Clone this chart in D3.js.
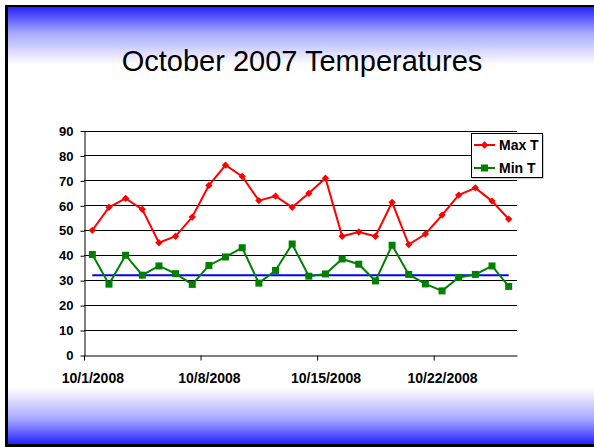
<!DOCTYPE html>
<html>
<head>
<meta charset="utf-8">
<script src="https://cdn.jsdelivr.net/npm/d3@7"></script>
<style>
  html, body { margin: 0; padding: 0; background: #fff; }
  svg { display: block; font-family: "Liberation Sans", Arial, sans-serif; }
  .axis text { font-weight: bold; fill: #000; }
  .axis path, .axis line { stroke: #000; }
</style>
</head>
<body>
<div id="chart"></div>
<script>
// size of the slide
var width = 594,
    height = 447;

// one entry per day of the month
var dates = ["10/1/2008", "10/2/2008", "10/3/2008", "10/4/2008", "10/5/2008", "10/6/2008",
             "10/7/2008", "10/8/2008", "10/9/2008", "10/10/2008", "10/11/2008", "10/12/2008",
             "10/13/2008", "10/14/2008", "10/15/2008", "10/16/2008", "10/17/2008", "10/18/2008",
             "10/19/2008", "10/20/2008", "10/21/2008", "10/22/2008", "10/23/2008", "10/24/2008",
             "10/25/2008", "10/26/2008"];

var maxT = [50, 59.2, 62.8, 58.4, 45, 47.6, 55.3, 68, 76.1, 71.6, 61.9, 63.7, 59.2,
            64.8, 70.9, 47.6, 49.3, 47.6, 61.2, 44.3, 48.5, 56.1, 64.1, 67, 61.7, 54.5];

var minT = [40.3, 28.4, 40, 32, 35.7, 32.6, 28.3, 35.9, 39.3, 43, 28.8, 33.9, 44.5,
            31.6, 32.5, 38.5, 36.4, 29.7, 44, 32.3, 28.5, 25.7, 31.1, 32.3, 35.7, 27.5];

// freezing reference line
var freezing = 32;

var yTicks = [0, 10, 20, 30, 40, 50, 60, 70, 80, 90];
var xTickLabels = ["10/1/2008", "10/8/2008", "10/15/2008", "10/22/2008"];

var seriesNames = ["Max T", "Min T"];
var seriesColors = ["#ff0000", "#008000"];

var parse = d3.timeParse("%m/%d/%Y");
var days = dates.map(parse);
var first = days[0],
    end = d3.timeDay.offset(days[days.length - 1], 1);

// points sit in the middle of each day slot
function mid(d) { return d3.timeHour.offset(d, 12); }

var svg = d3.select("#chart").append("svg")
    .attr("width", width)
    .attr("height", height);

/**** slide background ****/
var defs = svg.append("defs");
var gTop = defs.append("linearGradient").attr("id", "gTop")
    .attr("x1", 0).attr("y1", 0).attr("x2", 0).attr("y2", 1);
gTop.append("stop").attr("offset", "0%").attr("stop-color", "#2424ff");
gTop.append("stop").attr("offset", "45%").attr("stop-color", "#a8a8ff");
gTop.append("stop").attr("offset", "100%").attr("stop-color", "#ffffff");
var gBot = defs.append("linearGradient").attr("id", "gBot")
    .attr("x1", 0).attr("y1", 0).attr("x2", 0).attr("y2", 1);
gBot.append("stop").attr("offset", "0%").attr("stop-color", "#ffffff");
gBot.append("stop").attr("offset", "55%").attr("stop-color", "#a8a8ff");
gBot.append("stop").attr("offset", "100%").attr("stop-color", "#2424ff");

svg.append("rect").attr("x", 7).attr("y", 7).attr("width", width - 7).attr("height", 58)
    .attr("fill", "url(#gTop)");
svg.append("rect").attr("x", 7).attr("y", 388).attr("width", width - 7).attr("height", 56)
    .attr("fill", "url(#gBot)");

// black frame on the left, top and bottom
svg.append("rect").attr("x", 5).attr("y", 5).attr("width", width - 5).attr("height", 2).attr("fill", "#000");
svg.append("rect").attr("x", 5).attr("y", 5).attr("width", 3).attr("height", height - 5).attr("fill", "#000");
svg.append("rect").attr("x", 5).attr("y", 444).attr("width", width - 5).attr("height", 3).attr("fill", "#000");

svg.append("text")
    .attr("x", 302)
    .attr("y", 71)
    .attr("text-anchor", "middle")
    .style("font-size", "29px")
    .text("October 2007 Temperatures");

/**** scales ****/
var x = d3.scaleTime()
    .domain([first, end])
    .range([84, 517]);

var y = d3.scaleLinear()
    .domain([0, 90])
    .range([355, 130.5]);

var halfDay = x(mid(first)) - x(first);

// gridlines
svg.append("g")
    .selectAll("line")
    .data(yTicks.slice(1))
    .enter().append("line")
    .attr("x1", x(first))
    .attr("x2", x(end))
    .attr("y1", function(d) { return Math.round(y(d)) + 0.5; })
    .attr("y2", function(d) { return Math.round(y(d)) + 0.5; })
    .attr("stroke", "#000")
    .attr("stroke-width", 1);

// y axis
var yAxis = svg.append("g")
    .attr("class", "axis")
    .attr("transform", "translate(84.5,0.5)")
    .call(d3.axisLeft(y).tickValues(yTicks).tickSize(4).tickPadding(7).tickSizeOuter(0));
yAxis.selectAll("text").style("font-size", "13px");

// x axis, labels centred on the day slot
var xAxis = svg.append("g")
    .attr("class", "axis")
    .attr("transform", "translate(0," + (Math.round(y(0)) + 0.5) + ")")
    .call(d3.axisBottom(x)
        .tickValues(xTickLabels.map(parse))
        .tickSize(5)
        .tickSizeOuter(0)
        .tickPadding(13)
        .tickFormat(d3.timeFormat("%-m/%-d/%Y")));
xAxis.selectAll("text")
    .attr("x", halfDay)
    .style("font-size", "14px");

// freezing line
svg.append("line")
    .attr("x1", x(mid(days[0])))
    .attr("x2", x(mid(days[days.length - 1])))
    .attr("y1", y(freezing))
    .attr("y2", y(freezing))
    .attr("stroke", "#0000ff")
    .attr("stroke-width", 2);

var line = d3.line()
    .x(function(d) { return x(mid(d.date)); })
    .y(function(d) { return y(d.value); });

var maxData = days.map(function(d, i) { return { date: d, value: maxT[i] }; });
var minData = days.map(function(d, i) { return { date: d, value: minT[i] }; });

// Max T
svg.append("path")
    .datum(maxData)
    .attr("fill", "none")
    .attr("stroke", seriesColors[0])
    .attr("stroke-width", 2)
    .attr("d", line);

var diamond = d3.symbol().type(d3.symbolDiamond2).size(34);
svg.append("g").selectAll("path")
    .data(maxData)
    .enter().append("path")
    .attr("transform", function(d) { return "translate(" + x(mid(d.date)) + "," + y(d.value) + ")"; })
    .attr("d", diamond)
    .attr("fill", seriesColors[0]);

// Min T
svg.append("path")
    .datum(minData)
    .attr("fill", "none")
    .attr("stroke", seriesColors[1])
    .attr("stroke-width", 2)
    .attr("d", line);

svg.append("g").selectAll("rect")
    .data(minData)
    .enter().append("rect")
    .attr("x", function(d) { return x(mid(d.date)) - 3.5; })
    .attr("y", function(d) { return y(d.value) - 3.5; })
    .attr("width", 7)
    .attr("height", 7)
    .attr("fill", seriesColors[1]);

/**** legend ****/
var legend = svg.append("g").attr("transform", "translate(471,133)");
legend.append("rect")
    .attr("x", 1.5).attr("y", 1.5).attr("width", 71).attr("height", 44)
    .attr("fill", "#999");
legend.append("rect")
    .attr("x", 0.5).attr("y", 0.5).attr("width", 71).attr("height", 44)
    .attr("fill", "#fff").attr("stroke", "#000");

seriesNames.forEach(function(name, i) {
  var cy = 12 + i * 23;
  var row = legend.append("g").attr("transform", "translate(0," + cy + ")");
  row.append("line")
      .attr("x1", 3).attr("x2", 24).attr("y1", 0).attr("y2", 0)
      .attr("stroke", seriesColors[i]).attr("stroke-width", 2);
  if (i === 0) {
    row.append("path").attr("transform", "translate(13.5,0)").attr("d", diamond).attr("fill", seriesColors[i]);
  } else {
    row.append("rect").attr("x", 10).attr("y", -3.5).attr("width", 7).attr("height", 7).attr("fill", seriesColors[i]);
  }
  row.append("text")
      .attr("x", 28)
      .attr("y", 5)
      .style("font-size", "14px")
      .style("font-weight", "bold")
      .text(name);
});
</script>
</body>
</html>
